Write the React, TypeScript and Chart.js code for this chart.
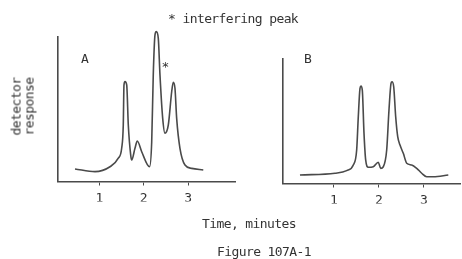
import React, { useEffect, useRef } from "react";
import { Chart, registerables } from "chart.js";

Chart.register(...registerables);

// Panel A: time (minutes) vs detector response
const timesA = [0.454, 0.903, 1.24, 1.427, 1.503, 1.539, 1.555, 1.578, 1.616, 1.652, 1.706, 1.728, 1.802, 1.854, 1.953, 2.13, 2.178, 2.213, 2.252, 2.281, 2.326, 2.364, 2.425, 2.476, 2.551, 2.627, 2.663, 2.701, 2.739, 2.813, 2.926, 3.076, 3.337];
const responseA = [8.7, 6.8, 10.2, 16.1, 23.0, 39.1, 66.8, 69.1, 66.8, 39.1, 18.3, 14.9, 23.0, 28.0, 20.6, 10.2, 27.5, 73.7, 101.4, 103.7, 99.1, 73.7, 43.7, 33.4, 39.1, 62.1, 68.7, 64.5, 43.7, 23.0, 11.4, 9.1, 8.0];

// Panel B
const timesB = [0.244, 1.022, 1.282, 1.429, 1.504, 1.54, 1.578, 1.6, 1.629, 1.667, 1.704, 1.762, 1.873, 1.984, 2.038, 2.096, 2.171, 2.222, 2.267, 2.289, 2.327, 2.371, 2.416, 2.467, 2.54, 2.616, 2.727, 2.838, 2.949, 3.06, 3.207, 3.54];
const responseB = [5.9, 7.1, 8.9, 12.8, 23.2, 46.2, 65.9, 67.5, 64.7, 34.7, 16.3, 11.2, 11.6, 14.7, 10.5, 11.6, 23.2, 50.9, 69.3, 70.4, 67.0, 46.2, 32.4, 26.6, 20.9, 14.0, 12.8, 10.5, 7.1, 4.7, 4.7, 5.9];

const tickValues = [1, 2, 3];

const xRangeA = [0.072, 4.05];
const yRangeA = [0, 100];
const xRangeB = [-0.133, 3.8];
const yRangeB = [0, 86.2];

const INK = "#4a4a4a";
const TEXT = "#333";
const MONO = "'DejaVu Sans Mono', 'Liberation Mono', monospace";

function makeConfig(times: number[], resp: number[], xr: number[], yr: number[], padding: any) {
  return {
    type: "line" as const,
    data: {
      datasets: [
        {
          data: times.map((t, i) => ({ x: t, y: resp[i] })),
          borderColor: INK,
          borderWidth: 1.6,
          pointRadius: 0,
          fill: false,
          cubicInterpolationMode: "monotone" as const,
          clip: false as any,
        },
      ],
    },
    options: {
      animation: false as const,
      responsive: false,
      events: [] as any,
      layout: { padding },
      plugins: { legend: { display: false }, tooltip: { enabled: false } },
      scales: {
        x: {
          type: "linear" as const,
          min: xr[0],
          max: xr[1],
          afterFit: (s: any) => {
            s.height = 20;
          },
          afterBuildTicks: (s: any) => {
            s.ticks = tickValues.map((v) => ({ value: v }));
          },
          grid: { display: true, drawOnChartArea: false, drawTicks: true, tickLength: 4, color: INK, lineWidth: 1 },
          border: { display: true, color: INK, width: 1.6 },
          ticks: {
            color: TEXT,
            font: { family: MONO, size: 13 },
            padding: 5,
            autoSkip: false,
            maxRotation: 0,
            callback: (v: any) => String(v),
          },
        },
        y: {
          type: "linear" as const,
          min: yr[0],
          max: yr[1],
          afterFit: (s: any) => {
            s.width = 0;
          },
          ticks: { display: false },
          grid: { display: false },
          border: { display: true, color: INK, width: 1.6 },
        },
      },
    },
  };
}

const textStyle: React.CSSProperties = {
  position: "absolute",
  fontFamily: MONO,
  fontSize: 13,
  letterSpacing: "-0.6px",
  lineHeight: "14px",
  color: TEXT,
  whiteSpace: "nowrap",
};

export default function App() {
  const refA = useRef<HTMLCanvasElement>(null);
  const refB = useRef<HTMLCanvasElement>(null);

  useEffect(() => {
    const a = new Chart(
      refA.current!,
      makeConfig(timesA, responseA, xRangeA, yRangeA, { left: 58, top: 37, right: 227, bottom: 57.5 }) as any
    );
    const b = new Chart(
      refB.current!,
      makeConfig(timesB, responseB, xRangeB, yRangeB, { left: 283, top: 59, right: 2, bottom: 55.5 }) as any
    );
    return () => {
      a.destroy();
      b.destroy();
    };
  }, []);

  return (
    <div
      style={{
        position: "fixed",
        left: 0,
        top: 0,
        width: 462,
        height: 259,
        overflow: "hidden",
        background: "#fff",
      }}
    >
      <canvas ref={refA} width={462} height={259} style={{ position: "absolute", left: 0, top: 0 }} />
      <canvas ref={refB} width={462} height={259} style={{ position: "absolute", left: 0, top: 0 }} />
      <div style={{ ...textStyle, left: 168, top: 12 }}>* interfering peak</div>
      <div style={{ ...textStyle, left: 81, top: 52 }}>A</div>
      <div style={{ ...textStyle, left: 304, top: 52 }}>B</div>
      <div style={{ ...textStyle, left: 161.4, top: 60 }}>*</div>
      <div
        style={{
          ...textStyle,
          left: -12.5,
          top: 94,
          width: 70,
          height: 25,
          lineHeight: "12.5px",
          textAlign: "center",
          transform: "rotate(-90deg)",
          transformOrigin: "center",
        }}
      >
        detector
        <br />
        response
      </div>
      <div style={{ ...textStyle, left: 202, top: 217 }}>Time, minutes</div>
      <div style={{ ...textStyle, left: 217, top: 245 }}>Figure 107A-1</div>
    </div>
  );
}
